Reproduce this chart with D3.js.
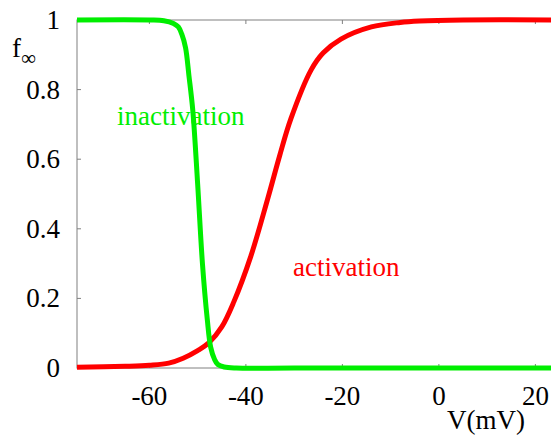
<!DOCTYPE html>
<html><head><script src="https://cdn.jsdelivr.net/npm/d3@7"></script></head>
<body style="margin:0">
<script>
// values (V in mV, steady-state value f)
const activationV = [-75, -65, -60, -56, -53, -50, -47.7, -45, -42.5, -39, -35.4, -33, -30.7, -26.5, -24, -20.3, -14, -8, -4, 5, 25];
const activationF = [0.002, 0.005, 0.008, 0.014, 0.028, 0.05, 0.072, 0.118, 0.19, 0.32, 0.49, 0.61, 0.715, 0.856, 0.905, 0.945, 0.98, 0.993, 0.997, 1, 1];

const inactivationV = [-75, -60, -57, -55, -54, -53.3, -52.5, -51.8, -51, -50, -49, -48, -47.3, -46.5, -45.8, -44.5, -42, -30, 25];
const inactivationF = [1, 1, 0.998, 0.99, 0.98, 0.96, 0.92, 0.84, 0.74, 0.53, 0.3, 0.14, 0.06, 0.025, 0.01, 0.003, 0, 0, 0];

const xTicks = [-60, -40, -20, 0, 20];
const yTicks = [0, 0.2, 0.4, 0.6, 0.8, 1];

const width = 551, height = 437;
const margin = { top: 20, left: 77, bottom: 69 };
const fontSize = 27;
const axisColor = '#808080';

const svg = d3.select('body').append('svg')
  .attr('width', width)
  .attr('height', height);

// plot box runs past the right edge of the window, like the original
const x = d3.scaleLinear().domain([-75, 25]).range([margin.left, margin.left + 482.5]);
const y = d3.scaleLinear().domain([0, 1]).range([height - margin.bottom, margin.top]);

// frame
svg.append('rect')
  .attr('x', x(-75)).attr('y', y(1))
  .attr('width', x(25) - x(-75)).attr('height', y(0) - y(1))
  .attr('fill', 'none').attr('stroke', axisColor).attr('stroke-width', 1);

// inward ticks, bottom and top
svg.selectAll('.xtick-b').data(xTicks).join('line')
  .attr('x1', d => x(d)).attr('x2', d => x(d))
  .attr('y1', y(0)).attr('y2', y(0) - 4)
  .attr('stroke', axisColor);
svg.selectAll('.xtick-t').data(xTicks).join('line')
  .attr('x1', d => x(d)).attr('x2', d => x(d))
  .attr('y1', y(1)).attr('y2', y(1) + 4)
  .attr('stroke', axisColor);
svg.selectAll('.ytick').data(yTicks).join('line')
  .attr('x1', x(-75)).attr('x2', x(-75) + 4)
  .attr('y1', d => y(d)).attr('y2', d => y(d))
  .attr('stroke', axisColor);

// curves
const line = d3.line()
  .x(d => x(d[0]))
  .y(d => y(d[1]))
  .curve(d3.curveCatmullRom.alpha(0.5));

svg.append('path')
  .datum(d3.zip(activationV, activationF))
  .attr('d', line)
  .attr('fill', 'none')
  .attr('stroke', '#ff0000')
  .attr('stroke-width', 5);

svg.append('path')
  .datum(d3.zip(inactivationV, inactivationF))
  .attr('d', line)
  .attr('fill', 'none')
  .attr('stroke', '#00ee00')
  .attr('stroke-width', 5);

// text, serif font set on every element
const serifStack = 'Times New Roman, Liberation Serif, Times, serif';
function label(sel) {
  return sel.attr('font-family', serifStack)
    .style('font-family', serifStack)
    .attr('font-size', fontSize);
}

svg.selectAll('.xlabel').data(xTicks).join('text')
  .call(label)
  .attr('x', d => x(d))
  .attr('y', 405)
  .attr('text-anchor', 'middle')
  .text(d => d);

svg.selectAll('.ylabel').data(yTicks).join('text')
  .call(label)
  .attr('x', 60)
  .attr('y', d => y(d) + 9)
  .attr('text-anchor', 'end')
  .text(d => d);

svg.append('text').call(label)
  .attr('x', 447).attr('y', 429)
  .text('V(mV)');

const fLabel = svg.append('text').call(label)
  .attr('x', 12).attr('y', 57);
fLabel.append('tspan').text('f');
fLabel.append('tspan').attr('dy', 8).attr('font-size', 21).text('\u221E');

svg.append('text').call(label)
  .attr('x', 117).attr('y', 125)
  .attr('fill', '#00ee00')
  .text('inactivation');

svg.append('text').call(label)
  .attr('x', 293).attr('y', 276)
  .attr('fill', '#ff0000')
  .text('activation');
</script>
</body></html>
